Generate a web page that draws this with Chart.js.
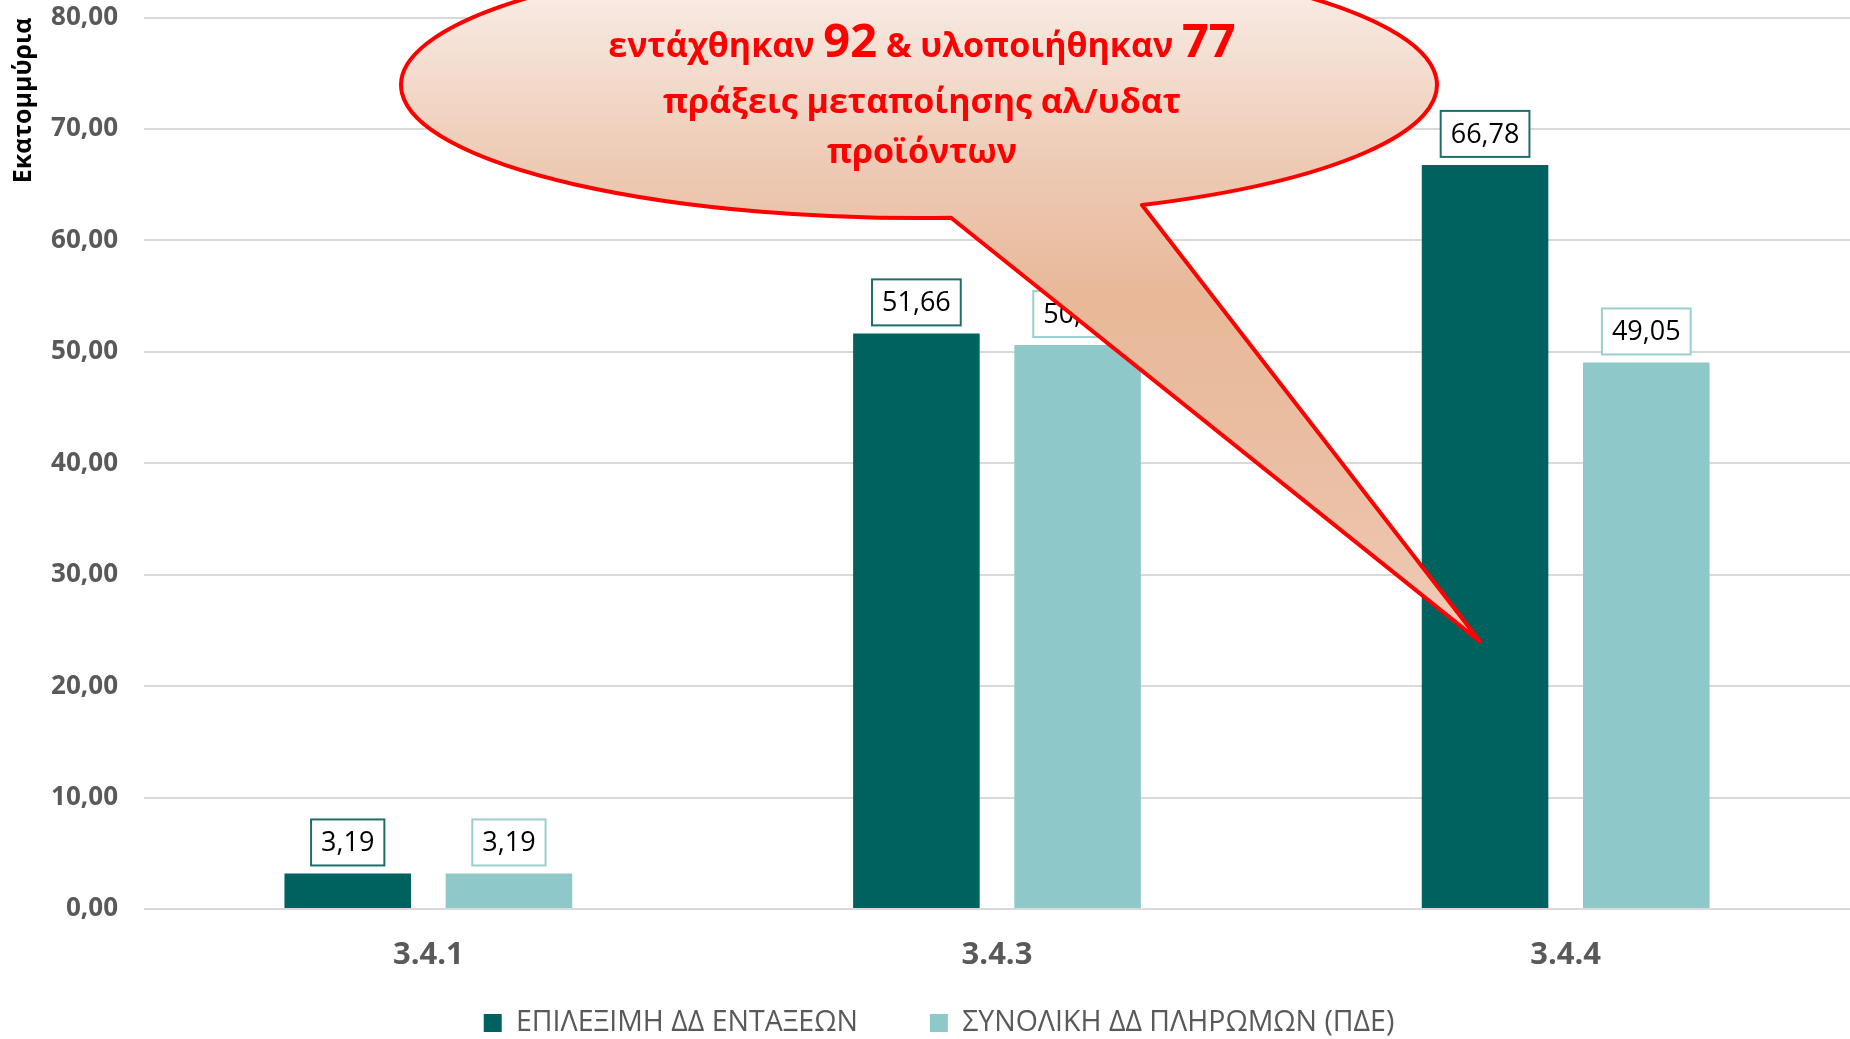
<!DOCTYPE html>
<html>
<head>
<meta charset="utf-8">
<script src="https://cdn.jsdelivr.net/npm/chart.js@4"></script>
<style>
  html, body { margin: 0; padding: 0; background: #fff; }
  canvas { display: block; }
</style>
</head>
<body>
<canvas id="chart" width="1850" height="1039"></canvas>
<script>
// data
const categories = ["3.4.1", "3.4.3", "3.4.4"];
const eligibleValues = [3.19, 51.66, 66.78];
const paymentValues = [3.19, 50.61, 49.05];
const seriesNames = ["ΕΠΙΛΕΞΙΜΗ ΔΔ ΕΝΤΑΞΕΩΝ", "ΣΥΝΟΛΙΚΗ ΔΔ ΠΛΗΡΩΜΩΝ (ΠΔΕ)"];
const yMin = 0;
const yMax = 80;
const yStep = 10;
const axisTitle = "Εκατομμύρια";
const calloutLines = [
    [["εντάχθηκαν ", false], ["92", true], [" & υλοποιήθηκαν ", false], ["77", true]],
    [["πράξεις μεταποίησης αλ/υδατ", false]],
    [["προϊόντων", false]]
];
const calloutTipValue = 24;

const DARK = "#00625E";
const LIGHT = "#8FC8C8";
const GREY = "#595959";

const fmt = v => v.toFixed(2).replace(".", ",");

// white box labels above bars
const boxLabels = {
    id: "boxLabels",
    afterDatasetsDraw(chart) {
        const ctx = chart.ctx;
        ctx.save();
        ctx.font = '27px "Open Sans"';
        ctx.textAlign = "center";
        ctx.textBaseline = "middle";
        chart.data.datasets.forEach((ds, i) => {
            chart.getDatasetMeta(i).data.forEach((bar, j) => {
                const txt = fmt(ds.data[j]);
                const w = ctx.measureText(txt).width + 20;
                const h = 46;
                const x = bar.x - w / 2;
                const y = bar.y - 8 - h;
                ctx.fillStyle = "#fff";
                ctx.fillRect(x, y, w, h);
                ctx.strokeStyle = ds.labelBorder;
                ctx.lineWidth = 2;
                ctx.strokeRect(x, y, w, h);
                ctx.fillStyle = "#000";
                ctx.fillText(txt, bar.x, y + h / 2 + 1);
            });
        });
        ctx.restore();
    }
};

// speech bubble pointing at the 3.4.4 bar
const callout = {
    id: "callout",
    afterDraw(chart) {
        const ctx = chart.ctx;
        const bar = chart.getDatasetMeta(0).data[2];
        const tipX = bar.x - 5;
        const tipY = chart.scales.y.getPixelForValue(calloutTipValue);

        const cx = 919, cy = 85, rx = 518, ry = 133;
        const a0 = Math.acos((951 - cx) / rx);
        const a1 = Math.acos((1142 - cx) / rx);

        ctx.save();
        const grad = ctx.createLinearGradient(0, cy - ry, 0, tipY);
        grad.addColorStop(0, "#FBF3EF");
        grad.addColorStop(0.3, "#EECBB6");
        grad.addColorStop(0.5, "#E8B898");
        grad.addColorStop(0.8, "#EBC0A6");
        grad.addColorStop(1, "#EFCCB8");
        ctx.beginPath();
        ctx.ellipse(cx, cy, rx, ry, 0, a0, a1 + Math.PI * 2, false);
        ctx.lineTo(tipX, tipY);
        ctx.closePath();
        ctx.fillStyle = grad;
        ctx.fill();
        ctx.lineWidth = 4;
        ctx.strokeStyle = "#FF0000";
        ctx.lineJoin = "round";
        ctx.stroke();

        ctx.fillStyle = "#FF0000";
        ctx.textBaseline = "alphabetic";
        ctx.textAlign = "left";
        const baselines = [57, 113, 163];
        const fontFor = big => big ? 'bold 47px "Open Sans"' : 'bold 34px "Open Sans"';
        const centerX = 922;
        calloutLines.forEach((parts, li) => {
            let total = 0;
            parts.forEach(([t, big]) => {
                ctx.font = fontFor(big);
                total += ctx.measureText(t).width;
            });
            let x = centerX - total / 2;
            parts.forEach(([t, big]) => {
                ctx.font = fontFor(big);
                ctx.fillText(t, x, baselines[li]);
                x += ctx.measureText(t).width;
            });
        });
        ctx.restore();
    }
};

// legend: wide gap between items, placed near the bottom edge
const legendFit = {
    id: "legendFit",
    beforeInit(chart) {
        const origFit = chart.legend.fit;
        chart.legend.fit = function () {
            origFit.call(this);
            this.height = 64;
        };
    },
    afterLayout(chart) {
        const lg = chart.legend;
        const pad = lg.options.labels.padding;
        const itemH = lg.options.labels.font.size;
        lg.top = chart.height - 16 - itemH / 2 - pad;
        lg.left += 14;
        lg.right += 14;
    }
};

new Chart(document.getElementById("chart"), {
    type: "bar",
    data: {
        labels: categories,
        datasets: [
            {
                label: seriesNames[0],
                data: eligibleValues,
                backgroundColor: DARK,
                labelBorder: "#1F6E6A",
                barPercentage: 0.785,
                categoryPercentage: 0.567
            },
            {
                label: seriesNames[1],
                data: paymentValues,
                backgroundColor: LIGHT,
                labelBorder: "#9ACFCF",
                barPercentage: 0.785,
                categoryPercentage: 0.567
            }
        ]
    },
    options: {
        responsive: false,
        animation: false,
        layout: {
            padding: 0
        },
        plugins: {
            legend: {
                position: "bottom",
                labels: {
                    color: GREY,
                    boxWidth: 18,
                    boxHeight: 18,
                    padding: 72,
                    font: { family: '"Liberation Sans Narrow", "Open Sans", sans-serif', size: 28.5 }
                }
            },
            tooltip: { enabled: false }
        },
        scales: {
            x: {
                grid: { display: false, drawTicks: false },
                border: { display: false },
                ticks: {
                    color: GREY,
                    padding: 28,
                    font: { family: '"Open Sans"', size: 31, weight: "bold" }
                },
                afterFit(scale) { scale.height = 66; }
            },
            y: {
                min: yMin,
                max: yMax,
                ticks: {
                    stepSize: yStep,
                    color: GREY,
                    padding: 2,
                    font: { family: '"Open Sans"', size: 26, weight: "bold" },
                    callback: v => fmt(v)
                },
                grid: {
                    color: "#D9D9D9",
                    lineWidth: 2,
                    drawTicks: true,
                    tickLength: 24,
                    tickColor: "rgba(0,0,0,0)"
                },
                border: { display: false },
                title: {
                    display: true,
                    text: axisTitle,
                    align: "end",
                    color: "#000",
                    padding: { top: 9 },
                    font: { family: '"Open Sans"', size: 25, weight: "bold" }
                },
                afterFit(scale) { scale.width = 144; }
            }
        }
    },
    plugins: [legendFit, boxLabels, callout]
});
</script>
</body>
</html>
